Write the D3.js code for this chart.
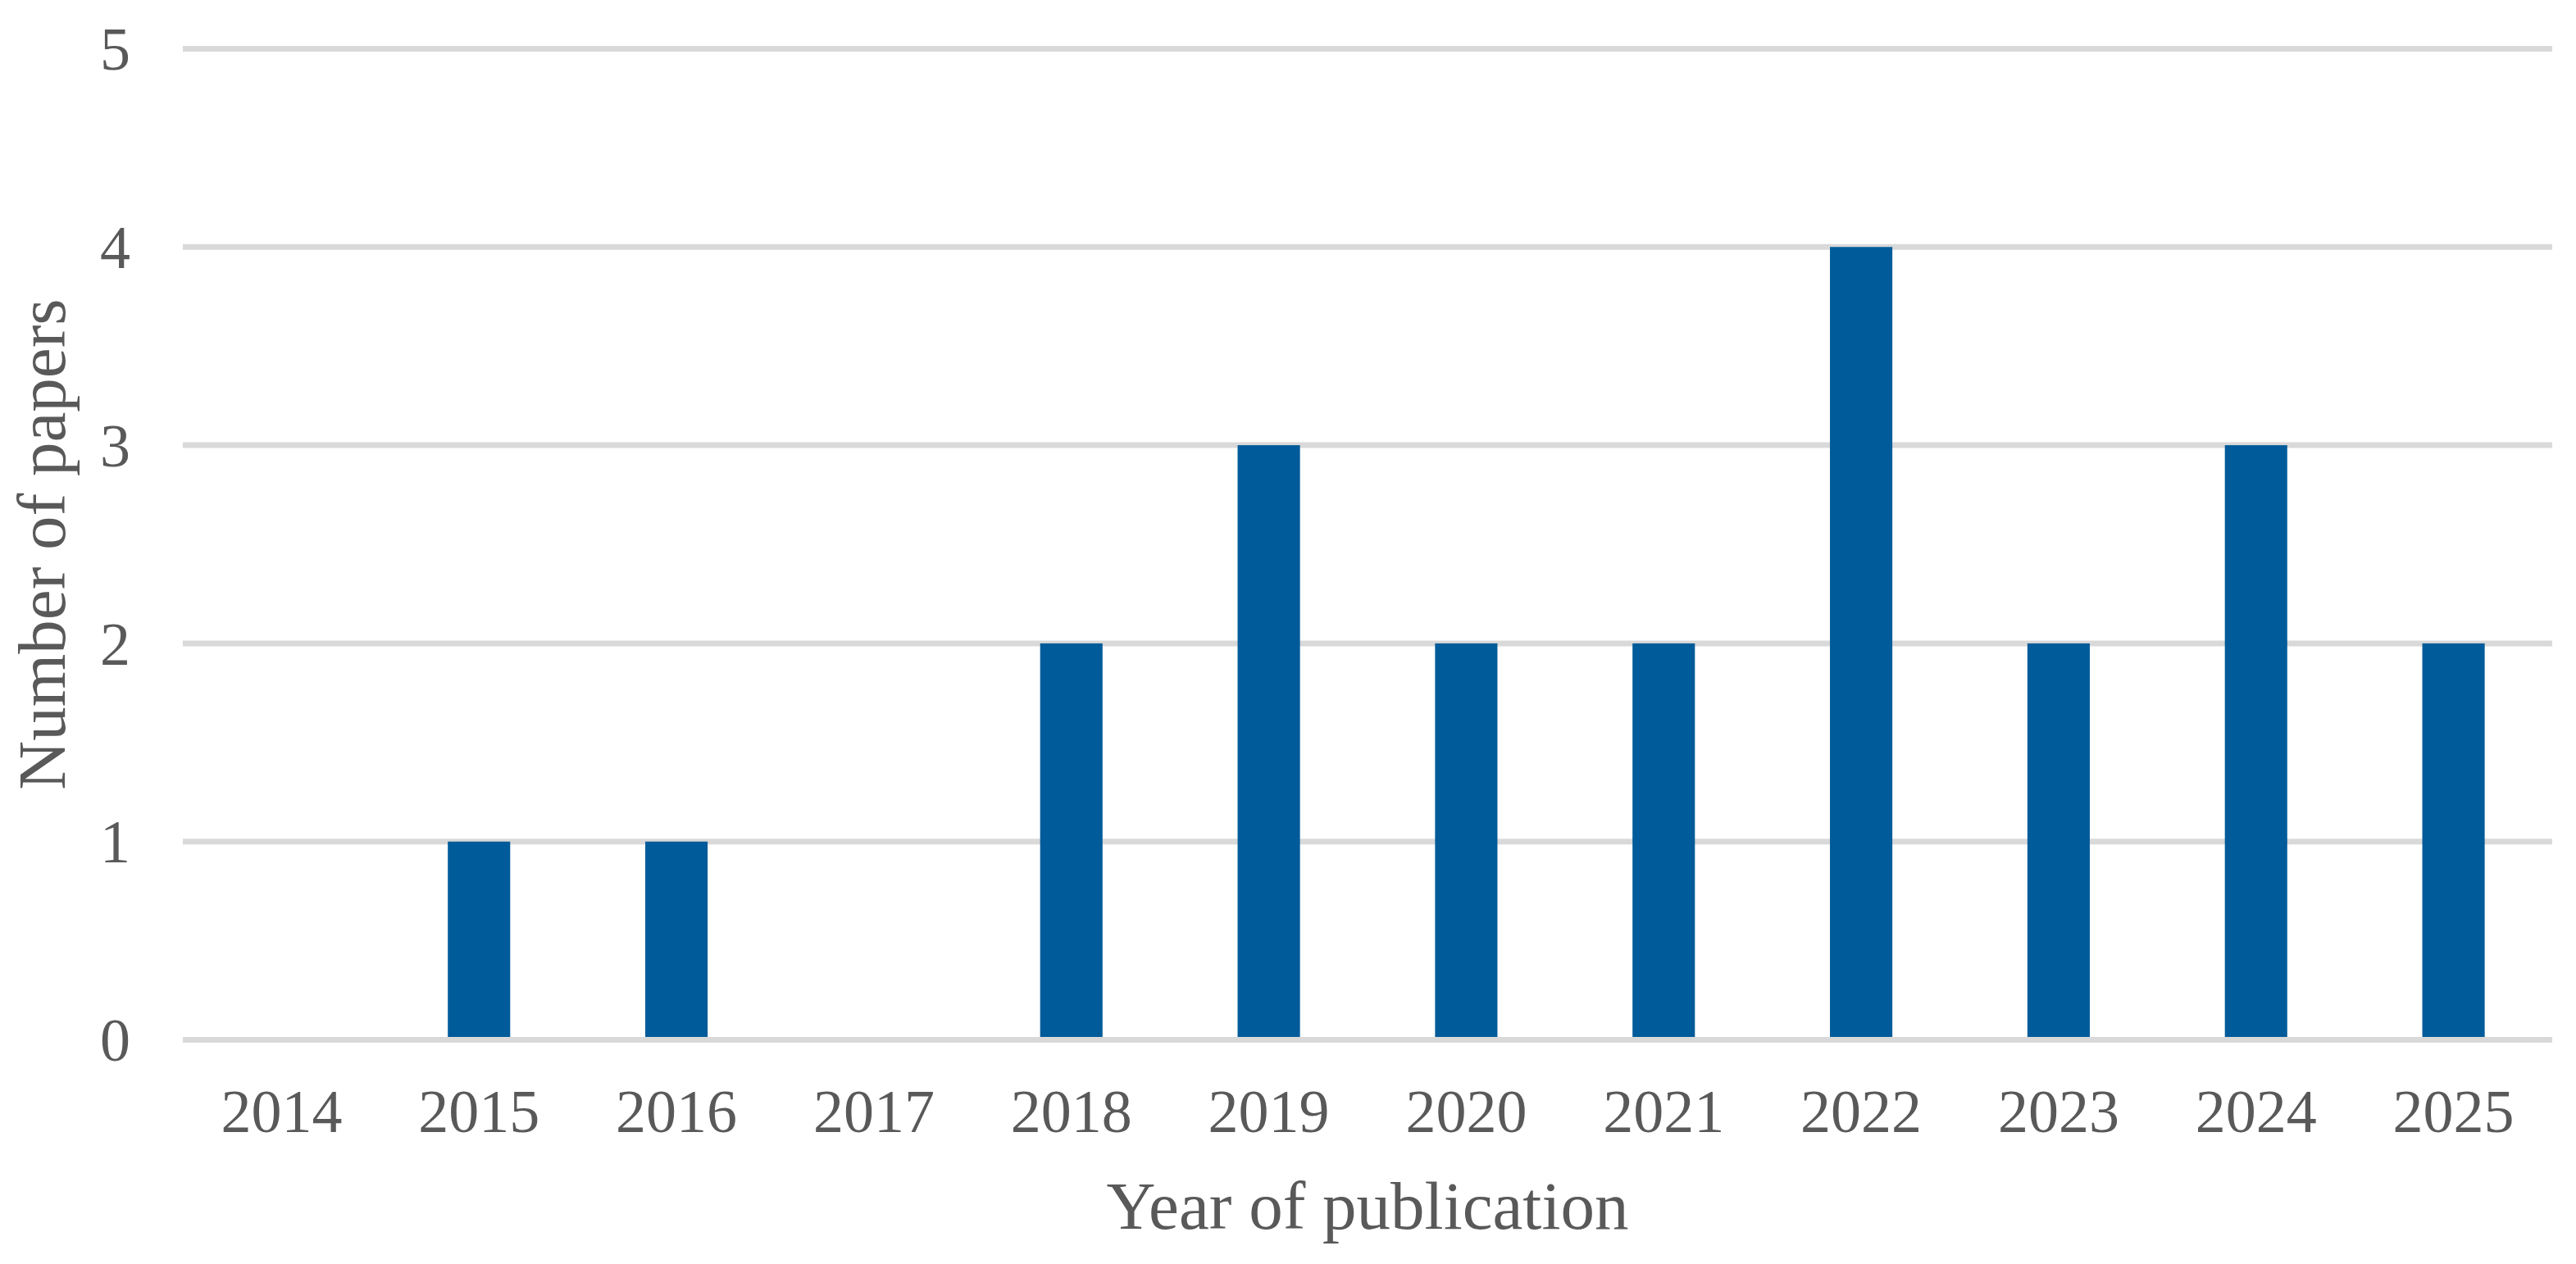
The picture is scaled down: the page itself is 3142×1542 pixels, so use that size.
<!DOCTYPE html>
<html>
<head>
<meta charset="utf-8">
<script src="https://cdn.jsdelivr.net/npm/d3@7"></script>
<style>
  body { margin: 0; background: #fff; }
  text { font-family: "Liberation Serif", "Times New Roman", serif; fill: #595959; }
</style>
</head>
<body>
<svg id="chart" width="3142" height="1542"></svg>
<script>
var years = ["2014","2015","2016","2017","2018","2019","2020","2021","2022","2023","2024","2025"];
var papers = [0, 1, 1, 0, 2, 3, 2, 2, 4, 2, 3, 2];
var yTicks = [0, 1, 2, 3, 4, 5];

function drawChart() {
  var svg = d3.select("#chart"),
      plotLeft = 223,
      plotRight = 3113,
      plotTop = 59.5,
      plotBottom = 1268.5;

  var x = d3.scaleBand()
      .domain(years)
      .range([plotLeft, plotRight])
      .paddingInner(0.684)
      .paddingOuter(0.342);

  var y = d3.scaleLinear()
      .domain([0, 5])
      .range([plotBottom, plotTop]);

  // gridlines
  svg.append("g")
    .selectAll("line")
    .data(yTicks)
    .enter()
    .append("line")
      .attr("x1", plotLeft)
      .attr("x2", plotRight)
      .attr("y1", function(d){ return y(d); })
      .attr("y2", function(d){ return y(d); })
      .attr("stroke", "#d9d9d9")
      .attr("stroke-width", 7);

  // bars
  svg.append("g")
    .selectAll("rect")
    .data(papers)
    .enter()
    .append("rect")
      .attr("x", function(d,i){ return x(years[i]); })
      .attr("width", x.bandwidth())
      .attr("y", function(d){ return y(d); })
      .attr("height", function(d){ return plotBottom - 3.5 - y(d) > 0 ? plotBottom - 3.5 - y(d) : 0; })
      .attr("fill", "#005b9a");

  // y axis
  var yAxis = svg.append("g")
      .attr("transform", "translate(159,0)")
      .call(d3.axisLeft(y).tickValues(yTicks).tickFormat(d3.format("d")).tickSize(0).tickPadding(0));
  yAxis.select(".domain").remove();
  yAxis.selectAll("text")
      .style("font-size", "74px")
      .attr("dy", "0.34em");

  // x axis
  var xAxis = svg.append("g")
      .attr("transform", "translate(0," + plotBottom + ")")
      .call(d3.axisBottom(x).tickSize(0).tickPadding(60));
  xAxis.select(".domain").remove();
  xAxis.selectAll("text")
      .style("font-size", "74px");

  // titles
  svg.append("text")
      .attr("x", (plotLeft + plotRight) / 2)
      .attr("y", 1499)
      .attr("text-anchor", "middle")
      .style("font-size", "83px")
      .text("Year of publication");

  svg.append("text")
      .attr("transform", "translate(79," + ((plotTop + plotBottom) / 2) + ") rotate(-90)")
      .attr("text-anchor", "middle")
      .style("font-size", "83px")
      .text("Number of papers");
}

drawChart();
</script>
</body>
</html>
